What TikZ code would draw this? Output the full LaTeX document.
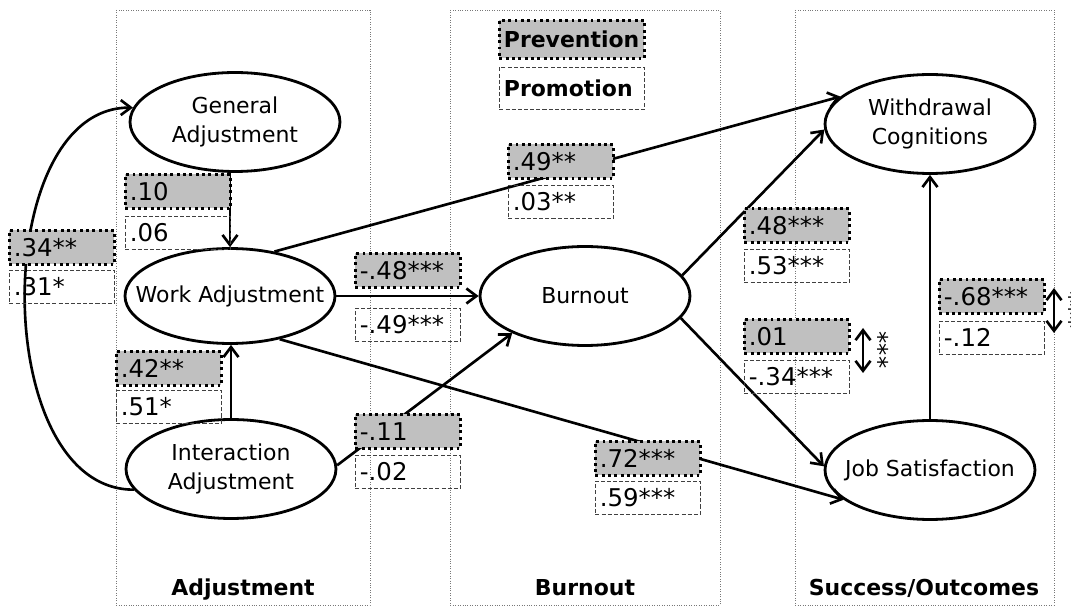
\documentclass[tikz,border=0pt]{standalone}
\usepackage{fontspec}
\setmainfont{DejaVu Sans}
\usetikzlibrary{shapes.geometric, arrows.meta, positioning}
\definecolor{boxgray}{RGB}{192,192,192}
\definecolor{panelgray}{RGB}{120,120,120}
\tikzset{
    latent/.style={ellipse, draw, line width=1.6pt, minimum width=4.2cm, minimum height=1.98cm,
        inner xsep=-1.2cm, inner ysep=-0.4cm, align=center, font=\fontsize{12.5}{16.5}\selectfont},
    pathline/.style={line width=1.5pt, -{Straight Barb[length=2mm, width=3mm]}},
    dblarrow/.style={line width=1.5pt, {Straight Barb[length=2mm, width=3mm]}-{Straight Barb[length=2mm, width=3mm]}},
    prevbox/.style={draw, fill=boxgray, line width=1.6pt, dotted, minimum height=0.68cm,
        text width=1.92cm, inner xsep=0.09cm, inner ysep=0pt, align=left,
        font=\fontsize{13.9}{15}\selectfont},
    promobox/.style={draw=black!75, line width=0.5pt, dash pattern=on 2.3pt off 1.2pt,
        minimum height=0.66cm, text width=1.92cm, inner xsep=0.09cm, inner ysep=0pt,
        align=left, font=\fontsize{13.9}{15}\selectfont},
    panel/.style={draw=panelgray, line width=0.4pt, densely dotted},
    paneltitle/.style={anchor=base, font=\bfseries\fontsize{12.5}{15}\selectfont},
    stars/.style={rotate=-90, inner sep=0pt, font=\fontsize{13.9}{15}\selectfont},
}
\begin{document}
\begin{tikzpicture}[x=0.02cm, y=-0.02cm]
    \useasboundingbox (0,0) rectangle (1071,607);
    % Draw panels
    \draw [panel] (116,10) rectangle (370,605);
    \draw [panel] (450,10) rectangle (720,605);
    \draw [panel] (795,10) rectangle (1054,605);
    \node [paneltitle] (tadj) at (243,595) {Adjustment};
    \node [paneltitle] (tbur) at (585,595) {Burnout};
    \node [paneltitle] (tout) at (924,595) {Success/Outcomes};
    % Latent variables
    \node [latent] (ga) at (235,122) {General\\Adjustment};
    \node [latent, minimum height=1.9cm] (wa) at (230,296) {Work Adjustment};
    \node [latent] (ia) at (231,469) {Interaction\\Adjustment};
    \node [latent] (bo) at (585,296) {Burnout};
    \node [latent] (wc) at (930,124) {Withdrawal\\Cognitions};
    \node [latent] (js) at (930,470) {Job Satisfaction};
    % Paths
    \draw [pathline] (wa.north |- ga.south) -- (wa.north);
    \draw [pathline] (ia.north) -- (ia.north |- wa.south);
    \draw [pathline] (ia.192) .. controls (-11,490) and (-11,107) .. (ga.172);
    \draw [pathline] (wa.45) -- (wc.163);
    \draw [pathline] (wa.east) -- (bo.west);
    \draw [pathline] (wa.-41) -- (js.199);
    \draw [pathline] (ia.2) -- (bo.207);
    \draw [pathline] (bo.12) -- (wc.183);
    \draw [pathline] (bo.-13) -- (js.178);
    \draw [pathline] (js.north) -- (wc.south);
    % Legend
    \node [prevbox, anchor=north west, text width=2.72cm, minimum height=0.76cm,
        font=\bfseries\fontsize{12.5}{15}\selectfont] (pvl) at (498,19) {Prevention};
    \node [promobox, below=0.14cm of pvl, text width=2.72cm, minimum height=0.84cm,
        font=\bfseries\fontsize{12.5}{15}\selectfont] (pml) {Promotion};
    % Coefficients
    \node [prevbox, anchor=north west] (pv1) at (124,173) {.10};
    \node [promobox, below=0.12cm of pv1] (pm1) {.06};
    \node [prevbox, anchor=north west] (pv2) at (8,229) {.34**};
    \node [promobox, below=0.08cm of pv2] (pm2) {.31*};
    \node [prevbox, anchor=north west] (pv3) at (115,350) {.42**};
    \node [promobox, below=0.06cm of pv3] (pm3) {.51*};
    \node [prevbox, anchor=north west] (pv4) at (507,143) {.49**};
    \node [promobox, below=0.1cm of pv4] (pm4) {.03**};
    \node [prevbox, anchor=north west] (pv5) at (354,252) {-.48***};
    \node [promobox, below=0.38cm of pv5] (pm5) {-.49***};
    \node [prevbox, anchor=north west] (pv6) at (354,413) {-.11};
    \node [promobox, below=0.1cm of pv6] (pm6) {-.02};
    \node [prevbox, anchor=north west] (pv7) at (594,440) {.72***};
    \node [promobox, below=0.08cm of pv7] (pm7) {.59***};
    \node [prevbox, anchor=north west] (pv8) at (743,207) {.48***};
    \node [promobox, below=0.1cm of pv8] (pm8) {.53***};
    \node [prevbox, anchor=north west] (pv9) at (743,318) {.01};
    \node [promobox, below=0.1cm of pv9] (pm9) {-.34***};
    \node [prevbox, anchor=north west] (pv10) at (938,278) {-.68***};
    \node [promobox, below=0.12cm of pv10] (pm10) {-.12};
    % Differences
    \coordinate (da) at (863,328);
    \coordinate (db) at (863,373);
    \coordinate (dc) at (1054,288);
    \coordinate (dd) at (1054,333);
    \draw [dblarrow] (da) -- (db);
    \draw [dblarrow] (dc) -- (dd);
    \node [stars] (sab) at (880,350) {***};
    \node [stars] (scd) at (1071,310) {***};
\end{tikzpicture}
\end{document}
